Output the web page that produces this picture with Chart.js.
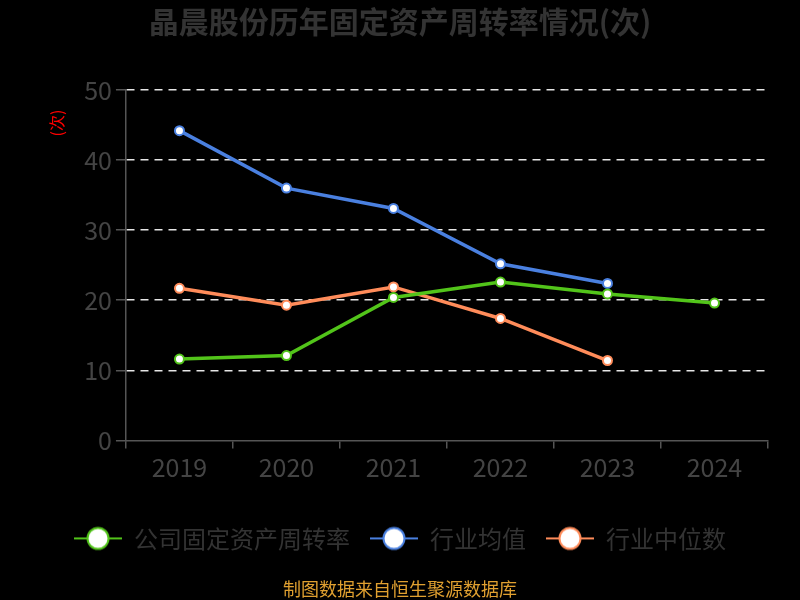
<!DOCTYPE html>
<html>
<head>
<meta charset="utf-8">
<script src="https://cdn.jsdelivr.net/npm/chart.js@4.4.0/dist/chart.umd.min.js"></script>
<style>
  html, body { margin: 0; padding: 0; background: #000; }
  #wrap { width: 800px; height: 600px; }
</style>
</head>
<body>
<div id="wrap"><canvas id="myChart" width="800" height="600"></canvas></div>
<script>
const years = ['2019', '2020', '2021', '2022', '2023', '2024'];
const companyRate = [11.6, 12.1, 20.4, 22.6, 20.9, 19.6];
const industryMean = [44.2, 36.0, 33.1, 25.2, 22.4, null];
const industryMedian = [21.7, 19.3, 21.9, 17.4, 11.4, null];
const seriesNames = ['公司固定资产周转率', '行业均值', '行业中位数'];
const yTicks = [0, 10, 20, 30, 40, 50];

const colors = ['#52c41a', '#4a80e0', '#ff8c5a'];
const FONT = "'Noto Sans CJK SC', 'Noto Sans', sans-serif";

// legend icon: short line with a big hollow circle
function legendIcon(color) {
  const c = document.createElement('canvas');
  c.width = 48; c.height = 26;
  const g = c.getContext('2d');
  g.strokeStyle = color;
  g.lineWidth = 2;
  g.beginPath(); g.moveTo(0, 13); g.lineTo(48, 13); g.stroke();
  g.beginPath(); g.arc(24, 13, 10.5, 0, Math.PI * 2);
  g.fillStyle = '#fff'; g.fill();
  g.lineWidth = 2; g.stroke();
  return c;
}
const icons = colors.map(legendIcon);

const ctx = document.getElementById('myChart').getContext('2d');
const lineChart = new Chart(ctx, {
  type: 'line',
  data: {
    labels: years,
    datasets: [companyRate, industryMean, industryMedian].map((d, i) => ({
      label: seriesNames[i],
      data: d,
      borderColor: colors[i],
      borderWidth: 3.5,
      pointRadius: 4.5,
      pointBorderWidth: 2,
      pointBackgroundColor: '#fff',
      pointBorderColor: colors[i],
      fill: false,
      tension: 0
    }))
  },
  options: {
    responsive: false,
    animation: false,
    layout: { padding: { left: 32, right: 32, top: 0, bottom: 0 } },
    plugins: {
      title: {
        display: true,
        text: '晶晨股份历年固定资产周转率情况(次)',
        color: '#333',
        font: { family: FONT, size: 30, weight: 'bold' },
        padding: { top: 4, bottom: 50 }
      },
      subtitle: {
        display: true,
        position: 'bottom',
        text: '制图数据来自恒生聚源数据库',
        color: '#e0a030',
        font: { family: FONT, size: 18 },
        padding: { top: 18, bottom: 0 }
      },
      legend: {
        position: 'bottom',
        labels: {
          usePointStyle: true,
          pointStyleWidth: 48,
          color: '#333',
          font: { family: FONT, size: 24 },
          padding: 20,
          generateLabels: chart => chart.data.datasets.map((ds, i) => ({
            text: ds.label,
            fontColor: '#333',
            pointStyle: icons[i],
            datasetIndex: i,
            hidden: false,
            lineWidth: 0,
            strokeStyle: 'transparent',
            fillStyle: 'transparent'
          }))
        }
      },
      tooltip: { enabled: false }
    },
    scales: {
      x: {
        offset: true,
        afterFit: axis => { axis.height += 20; },
        grid: {
          offset: true,
          drawOnChartArea: false,
          tickLength: 8,
          color: '#555',
          lineWidth: 1.5
        },
        border: { color: '#555', width: 1.5 },
        ticks: {
          color: '#444',
          font: { family: FONT, size: 25 },
          padding: 4
        }
      },
      y: {
        min: 0,
        max: 50,
        afterBuildTicks: axis => { axis.ticks = yTicks.map(v => ({ value: v })); },
        grid: {
          color: c => (c.tick && c.tick.value === 0 ? 'transparent' : '#e6e6e6'),
          lineWidth: 1.5,
          tickLength: 10,
          tickColor: '#555',
          tickBorderDash: []
        },
        border: { color: '#555', width: 1.5, dash: [8, 6] },
        ticks: {
          color: '#444',
          font: { family: FONT, size: 25 },
          padding: 4
        },
        title: {
          display: true,
          text: '(次)\u3000 ',
          color: '#ff0000',
          align: 'end',
          font: { family: FONT, size: 16 },
          padding: { top: 15, bottom: 14 }
        }
      }
    }
  }
});
</script>
</body>
</html>
